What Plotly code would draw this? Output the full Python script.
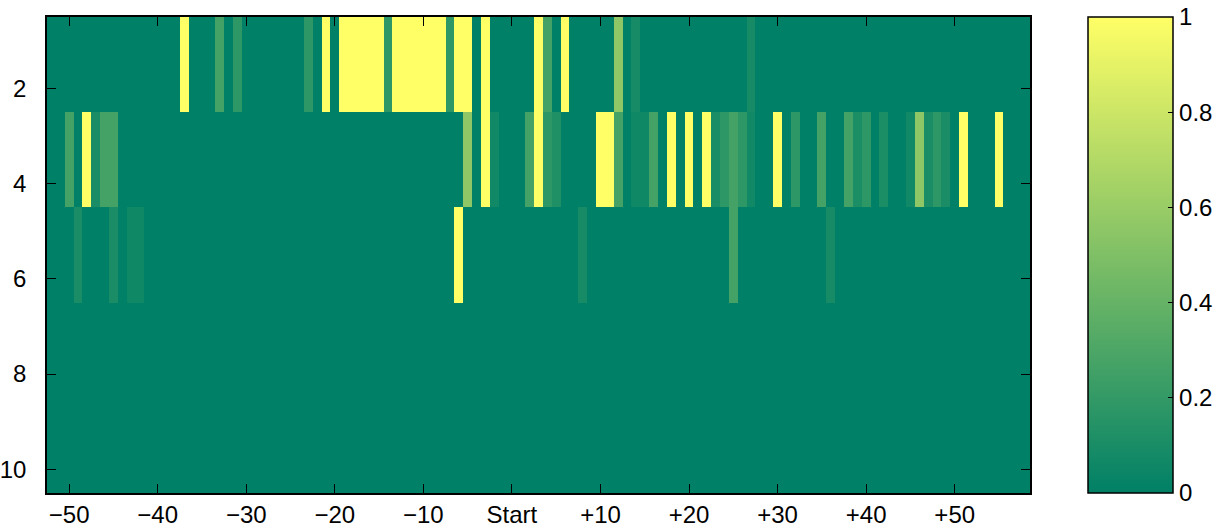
import plotly.graph_objects as go

# Column positions relative to start (-52 .. +58)
columns = list(range(-52, 59))
rows = [1, 2, 3, 4, 5, 6, 7, 8, 9, 10]

# Values: rows 1-2 share band_a, rows 3-4 band_b, rows 5-6 band_c
band_a = [
    0, 0, 0, 0, 0, 0, 0, 0, 0, 0,            # -52..-43
    0, 0, 0, 0, 0, 1, 0, 0, 0, 0.27,         # -42..-33
    0, 0.18, 0, 0, 0, 0, 0, 0, 0, 0.18,      # -32..-23
    0, 1, 0, 1, 1, 1, 1, 1, 0.18, 1,         # -22..-13
    1, 1, 1, 1, 1, 0.18, 1, 1, 0, 1,         # -12..-3
    0, 0, 0, 0, 0, 1, 0.27, 0, 1, 0,         # -2..7
    0, 0, 0, 0, 0.56, 0, 0.09, 0, 0, 0,      # 8..17
    0, 0, 0, 0, 0, 0, 0, 0, 0, 0.09,         # 18..27
    0, 0, 0, 0, 0, 0, 0, 0, 0, 0,            # 28..37
    0, 0, 0, 0, 0, 0, 0, 0, 0, 0,            # 38..47
    0, 0, 0, 0, 0, 0, 0, 0, 0, 0,            # 48..57
    0,                                       # 58
]
band_b = [
    0, 0, 0.27, 0, 1, 0.1, 0.27, 0.27, 0, 0,         # -52..-43
    0, 0, 0, 0, 0, 0, 0, 0, 0, 0,                    # -42..-33
    0, 0, 0, 0, 0, 0, 0, 0, 0, 0,                    # -32..-23
    0, 0, 0, 0, 0, 0, 0, 0, 0, 0,                    # -22..-13
    0, 0, 0, 0, 0, 0, 0, 0.56, 0, 1,                 # -12..-3
    0.07, 0, 0, 0, 0.27, 1, 0.18, 0.12, 0, 0,        # -2..7
    0, 0, 1, 1, 0.27, 0, 0.06, 0.06, 0.27, 0,        # 8..17
    1, 0, 1, 0, 1, 0.1, 0.18, 0.27, 0.18, 0.07,      # 18..27
    0, 0, 1, 0, 0.18, 0, 0, 0.27, 0, 0,              # 28..37
    0.27, 0.11, 0.18, 0, 0.11, 0, 0, 0.07, 0.56, 0.1,  # 38..47
    0.18, 0.1, 0, 1, 0, 0, 0, 1, 0, 0,               # 48..57
    0,                                               # 58
]
band_c = [
    0, 0, 0, 0.1, 0, 0, 0, 0.1, 0, 0.06,     # -52..-43
    0.06, 0, 0, 0, 0, 0, 0, 0, 0, 0,         # -42..-33
    0, 0, 0, 0, 0, 0, 0, 0, 0, 0,            # -32..-23
    0, 0, 0, 0, 0, 0, 0, 0, 0, 0,            # -22..-13
    0, 0, 0, 0, 0, 0, 1, 0, 0, 0,            # -12..-3
    0, 0, 0, 0, 0, 0, 0, 0, 0, 0,            # -2..7
    0.09, 0, 0, 0, 0, 0, 0, 0, 0, 0,         # 8..17
    0, 0, 0, 0, 0, 0, 0, 0.27, 0, 0,         # 18..27
    0, 0, 0, 0, 0, 0, 0, 0, 0.09, 0,         # 28..37
    0, 0, 0, 0, 0, 0, 0, 0, 0, 0,            # 38..47
    0, 0, 0, 0, 0, 0, 0, 0, 0, 0,            # 48..57
    0,                                       # 58
]
band_empty = [0] * len(columns)

z = [band_a, band_a, band_b, band_b, band_c, band_c,
     band_empty, band_empty, band_empty, band_empty]

x_tick_vals = [-50, -40, -30, -20, -10, 0, 10, 20, 30, 40, 50]
x_tick_text = ["\u221250", "\u221240", "\u221230", "\u221220", "\u221210", "Start",
               "+10", "+20", "+30", "+40", "+50"]
y_tick_vals = [2, 4, 6, 8, 10]
cb_tick_vals = [0, 0.2, 0.4, 0.6, 0.8, 1]
cb_tick_text = ["0", "0.2", "0.4", "0.6", "0.8", "1"]

summer = [[0.0, "rgb(0,128,102)"], [1.0, "rgb(255,255,102)"]]

FONT = "Liberation Sans, Arial, Helvetica, sans-serif"

fig = go.Figure(
    go.Heatmap(
        x=columns,
        y=rows,
        z=z,
        colorscale=summer,
        zmin=0,
        zmax=1,
        colorbar=dict(
            x=1.0585,
            xanchor="left",
            y=0.5,
            yanchor="middle",
            len=1.0,
            lenmode="fraction",
            thickness=85,
            thicknessmode="pixels",
            outlinewidth=1.5,
            outlinecolor="black",
            ticks="inside",
            ticklen=5,
            tickcolor="black",
            tickvals=cb_tick_vals,
            ticktext=cb_tick_text,
            tickfont=dict(size=24, color="black", family=FONT),
            ypad=0,
            xpad=0,
        ),
        hoverinfo="skip",
    )
)

fig.update_layout(
    width=1218,
    height=528,
    margin=dict(l=47, r=188, t=17, b=35, autoexpand=False),
    paper_bgcolor="white",
    plot_bgcolor="white",
    font=dict(family=FONT, size=24, color="black"),
    xaxis=dict(
        range=[-52.5, 58.5],
        tickvals=x_tick_vals,
        ticktext=x_tick_text,
        ticks="inside",
        ticklen=9,
        tickwidth=1.2,
        tickcolor="black",
        showline=True,
        linecolor="black",
        linewidth=1.5,
        mirror="ticks",
        showgrid=False,
        zeroline=False,
        automargin=False,
        ticklabelstandoff=-1,
        tickfont=dict(size=24, family=FONT, color="black"),
    ),
    yaxis=dict(
        range=[10.5, 0.5],
        tickvals=y_tick_vals,
        ticks="inside",
        ticklen=9,
        tickwidth=1.2,
        tickcolor="black",
        showline=True,
        linecolor="black",
        linewidth=1.5,
        mirror="ticks",
        showgrid=False,
        zeroline=False,
        automargin=False,
        ticklabelstandoff=14,
        tickfont=dict(size=24, family=FONT, color="black"),
    ),
)

# Remove the default page margin so the figure sits at the window's top-left corner
fig.write_html(
    "out.html",
    config={"displayModeBar": False},
    post_script="document.body.style.margin='0px';document.body.style.overflow='hidden';",
)
